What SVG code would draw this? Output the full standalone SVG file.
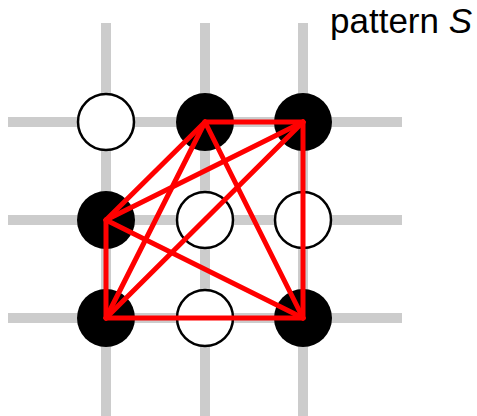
<svg xmlns="http://www.w3.org/2000/svg" width="477" height="416" viewBox="0 0 477 416">
<style>
.grid{stroke:#cccccc;stroke-width:10;fill:none}
.blk{fill:#000}
.wht{fill:#fff;stroke:#000;stroke-width:2.5}
.edge{stroke:#ff0000;stroke-width:5;stroke-linecap:round;fill:none}
.lbl{font-family:"Liberation Sans",Arial,sans-serif;font-size:35px;fill:#000}
</style>
<rect width="477" height="416" fill="#fff"/>
<g id="grid">
<line class="grid" x1="106" y1="23" x2="106" y2="416"/>
<line class="grid" x1="205" y1="23" x2="205" y2="416"/>
<line class="grid" x1="303" y1="23" x2="303" y2="416"/>
<line class="grid" x1="8" y1="122" x2="402" y2="122"/>
<line class="grid" x1="8" y1="220" x2="402" y2="220"/>
<line class="grid" x1="8" y1="318" x2="402" y2="318"/>
</g>
<g id="n11"><circle class="wht" cx="106" cy="122" r="28"/></g>
<g id="n12"><circle class="blk" cx="205" cy="122" r="29"/></g>
<g id="n13"><circle class="blk" cx="303" cy="122" r="29"/></g>
<g id="n21"><circle class="blk" cx="106" cy="220" r="29"/></g>
<g id="n22"><circle class="wht" cx="205" cy="220" r="28"/></g>
<g id="n23"><circle class="wht" cx="303" cy="220" r="28"/></g>
<g id="n31"><circle class="blk" cx="106" cy="318" r="29"/></g>
<g id="n32"><circle class="wht" cx="205" cy="318" r="28"/></g>
<g id="n33"><circle class="blk" cx="303" cy="318" r="29"/></g>
<g id="connectors">
<line class="edge" x1="205" y1="122" x2="303" y2="122"/>
<line class="edge" x1="205" y1="122" x2="106" y2="220"/>
<line class="edge" x1="205" y1="122" x2="106" y2="318"/>
<line class="edge" x1="205" y1="122" x2="303" y2="318"/>
<line class="edge" x1="303" y1="122" x2="106" y2="220"/>
<line class="edge" x1="303" y1="122" x2="106" y2="318"/>
<line class="edge" x1="303" y1="122" x2="303" y2="318"/>
<line class="edge" x1="106" y1="220" x2="106" y2="318"/>
<line class="edge" x1="106" y1="220" x2="303" y2="318"/>
<line class="edge" x1="106" y1="318" x2="303" y2="318"/>
</g>
<g id="label"><text class="lbl" x="330" y="33">pattern <tspan font-style="italic">S</tspan></text></g>
</svg>
